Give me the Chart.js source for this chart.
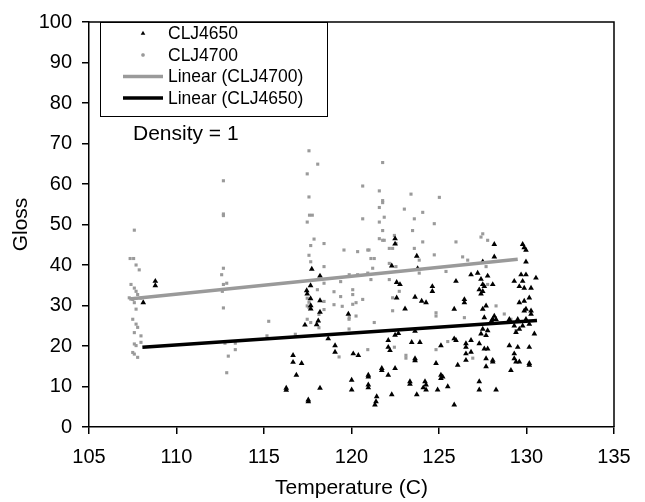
<!DOCTYPE html>
<html>
<head>
<meta charset="utf-8">
<script src="https://cdn.jsdelivr.net/npm/chart.js@4.4.0/dist/chart.umd.min.js"></script>
<style>
  body { margin: 0; background: #fff; }
  canvas { display: block; }
</style>
</head>
<body>
<canvas id="grafico" width="645" height="502"></canvas>
<script>
// --- Datos ---

// CLJ4650 (triángulos negros): temperatura, brillo
const tempCLJ4650 = [
  108.79, 108.79, 108.1, 116.66, 116.66, 116.85, 116.27, 116.27, 117.73, 118.2,
  117.66, 117.44, 117.47, 117.66, 118.2, 117.67, 117.67, 118.2, 117.34, 118.1,
  118.01, 119.82, 118.67, 119.06, 119.06, 117.15, 118.2, 117.53, 117.53,
  122.49, 122.49, 123.73, 122.3, 123.78, 122.58, 122.77, 122.58, 123.63, 124.01,
  123.06, 122.49, 122.68, 123.63, 122.1, 123.44, 123.91, 122.1, 122.2, 120.1,
  120.39, 123.63, 123.63, 121.73, 121.73, 122.49, 120.96, 120.96, 122.1, 120.01,
  123.34, 123.34, 124.2, 120.01, 120.96, 120.96, 122.3, 123.73, 121.44, 121.4,
  121.34, 124.1,
  127.5, 126.83, 127.21, 127.4, 127.78, 125.97, 127.5, 127.59, 127.3, 127.5,
  127.4, 124.62, 124.62, 124.26, 126.45, 126.45, 127.69, 127.5, 125.87, 127.59,
  127.5, 127.78, 127.4, 127.69, 125.87, 125.97, 126.83, 127.3, 127.59, 127.78,
  126.54, 126.54, 126.54, 126.83, 125.11, 126.54, 124.83, 126.07, 127.69, 125.11,
  125.21, 125.11, 124.26, 124.26, 124.92, 125.5, 127.3, 127.3, 125.87,
  128.16, 129.78, 129.87, 129.97, 128.16, 129.97, 128.07, 129.69, 129.97, 130.54,
  129.3, 129.78, 129.59, 129.87, 130.26, 130.16, 129.87, 129.59, 129.97, 129.87,
  130.26, 130.26, 128.16, 128.07, 128.26, 129.02, 129.5, 129.97, 128.0, 129.3,
  129.59, 129.4, 129.78, 130.16, 130.45, 129.02, 129.5, 130.16, 129.3, 129.3,
  129.4, 129.59, 130.16, 130.16, 128.07, 128.07, 129.11, 128.26, 127.69
];
const glossCLJ4650 = [
  36.0, 34.9, 30.7, 17.7, 16.0, 12.8, 9.6, 9.1, 39.0, 37.3,
  34.9, 33.7, 32.9, 31.7, 31.2, 30.0, 29.2, 28.4, 25.2, 26.2,
  25.3, 27.9, 21.8, 20.1, 18.5, 15.7, 9.6, 6.7, 6.3,
  46.5, 45.2, 42.2, 39.8, 39.1, 35.7, 35.2, 31.9, 32.1, 31.1,
  29.2, 22.7, 23.1, 23.7, 21.4, 20.9, 20.9, 19.7, 18.9, 18.1,
  17.7, 16.9, 16.4, 14.5, 14.0, 14.5, 12.8, 12.4, 12.8, 11.6,
  11.2, 10.6, 11.2, 9.2, 10.4, 9.7, 8.0, 8.0, 7.5, 6.3,
  5.5, 9.7,
  40.8, 37.6, 38.0, 36.5, 37.3, 36.0, 35.2, 34.7, 33.9, 33.5,
  32.9, 34.7, 33.5, 30.7, 31.5, 30.7, 29.9, 29.1, 29.1, 27.0,
  24.2, 23.8, 23.0, 22.6, 21.8, 21.4, 21.4, 20.6, 19.3, 19.3,
  20.6, 19.7, 18.1, 18.5, 20.1, 16.5, 15.7, 15.3, 14.9, 12.8,
  12.4, 12.0, 10.4, 9.2, 9.2, 10.0, 11.2, 9.2, 5.5,
  45.1, 45.1, 44.3, 43.7, 42.0, 40.8, 35.2, 37.6, 37.6, 36.8,
  36.0, 36.0, 34.7, 34.3, 34.3, 31.9, 31.1, 30.7, 29.1, 28.7,
  28.7, 27.9, 27.4, 26.6, 26.6, 26.6, 26.6, 26.6, 26.2, 25.0,
  24.2, 23.4, 25.0, 25.4, 23.0, 20.1, 19.7, 19.7, 18.1, 16.9,
  16.1, 16.1, 15.7, 15.3, 16.5, 16.1, 14.0, 9.2, 16.9
];

// CLJ4700 (cuadritos grises)
const tempCLJ4700 = [
  107.59, 107.35, 107.55, 107.69, 107.87, 107.4, 107.59, 107.69, 107.78, 107.3,
  107.5, 107.97, 107.59, 107.69, 107.5, 107.69, 107.78, 107.59, 107.97, 107.97,
  107.59, 107.69, 107.5, 107.59, 107.78,
  112.68, 112.68, 112.68, 112.68, 112.58, 112.87, 112.68, 112.62, 112.68, 115.27,
  115.17, 116.79, 112.77, 113.36, 113.36, 112.96, 112.87,
  117.57, 118.07, 117.47, 117.57, 117.6, 117.76, 117.47, 117.86, 118.43, 117.67,
  117.57, 119.57, 117.67, 118.43, 118.43, 119.38, 118.05, 119.0, 117.47, 117.57,
  119.38, 117.47, 117.57, 118.43, 119.0, 119.47, 118.43, 118.14, 117.67, 117.47,
  118.14, 119.86, 119.86, 119.29,
  121.78, 120.64, 121.59, 123.4, 121.78, 121.78, 121.59, 123.02, 124.07, 120.64,
  121.87, 123.59, 121.59, 121.78, 123.49, 121.59, 121.78, 121.87, 122.45, 122.54,
  124.07, 122.16, 122.35, 123.59, 120.35, 120.93, 121.0, 121.11, 121.3, 122.16,
  122.54, 121.21, 123.87, 119.87, 120.35, 120.93, 121.11, 122.16, 123.87, 122.73,
  120.07, 120.07, 120.64, 122.35, 120.26, 120.07, 122.35, 119.87, 120.26, 121.3,
  122.45, 120.93, 123.11, 123.11,
  125.02, 124.73, 125.97, 127.5, 127.4, 127.78, 124.73, 126.35, 126.64, 125.4,
  127.69, 127.78, 124.83, 124.83, 126.45, 125.5, 124.83, 126.93,
  128.26, 128.73, 129.11, 129.4
];
const glossCLJ4700 = [
  48.6, 41.6, 41.6, 40.0, 38.8, 35.2, 34.3, 33.5, 32.7, 31.9,
  31.5, 31.8, 30.7, 29.1, 26.6, 25.4, 24.6, 23.3, 22.5, 20.9,
  20.5, 20.1, 18.4, 18.0, 17.2,
  60.8, 52.6, 52.2, 39.2, 37.6, 35.5, 35.2, 33.5, 29.4, 26.1,
  22.5, 22.9, 20.7, 20.7, 19.1, 17.5, 13.4,
  68.2, 64.9, 62.5, 56.8, 52.3, 52.3, 50.6, 46.4, 45.3, 44.8,
  42.4, 43.7, 40.8, 39.6, 35.5, 35.9, 33.9, 33.4, 31.8, 30.8,
  32.2, 29.9, 29.5, 31.0, 30.2, 29.8, 29.0, 27.8, 25.8, 26.6,
  24.5, 26.6, 24.2, 17.3,
  65.3, 59.5, 58.3, 57.5, 55.9, 55.4, 54.2, 53.8, 53.0, 51.4,
  51.8, 51.4, 50.6, 48.5, 48.5, 46.5, 46.1, 46.1, 47.3, 45.3,
  45.7, 44.1, 44.1, 44.1, 43.3, 43.7, 43.7, 41.6, 41.6, 40.4,
  39.6, 39.2, 41.2, 37.6, 37.6, 38.0, 36.4, 36.4, 38.0, 33.5,
  33.9, 32.7, 31.5, 31.9, 30.7, 30.3, 28.7, 27.0, 27.4, 25.8,
  19.7, 19.1, 17.7, 17.0,
  56.7, 50.2, 45.7, 47.7, 46.9, 46.1, 42.5, 42.0, 41.2, 38.4,
  39.6, 35.2, 28.2, 27.4, 27.0, 21.1, 19.1, 17.0,
  29.9, 27.9, 26.6, 23.8
];

// Líneas de tendencia (extremos)
const tempLinear4700 = [107.3, 129.5];
const glossLinear4700 = [31.6, 41.4];
const tempLinear4650 = [108.05, 130.6];
const glossLinear4650 = [19.7, 26.3];

const xTicks = [105, 110, 115, 120, 125, 130, 135];
const yTicks = [0, 10, 20, 30, 40, 50, 60, 70, 80, 90, 100];

const FUENTE = "'Liberation Sans', Arial, sans-serif";
const GRIS = '#9a9a9a';

const toPoints = (xs, ys) => xs.map((x, i) => ({ x: x, y: ys[i] }));

// Leyenda dentro del área + texto "Density = 1"
const leyendaPlugin = {
    id: 'leyendaInterna',
    afterDraw(chart) {
        const ctx = chart.ctx;
        const a = chart.chartArea;
        ctx.save();
        // marco superior y derecho
        ctx.strokeStyle = '#000';
        ctx.lineWidth = 1.5;
        ctx.beginPath();
        ctx.moveTo(a.left, a.top);
        ctx.lineTo(a.right, a.top);
        ctx.lineTo(a.right, a.bottom);
        ctx.stroke();

        // caja de leyenda
        ctx.lineWidth = 1;
        ctx.fillStyle = '#fff';
        ctx.fillRect(100.5, 22.5, 227, 94);
        ctx.strokeRect(100.5, 22.5, 227, 94);

        const filas = [33.5, 55, 76.5, 98];
        const xMarca = 143;
        ctx.font = '17.5px ' + FUENTE;
        ctx.textBaseline = 'middle';
        ctx.textAlign = 'left';

        chart.data.datasets.forEach((ds, i) => {
            const y = filas[i];
            if (ds.showLine) {
                ctx.strokeStyle = ds.borderColor;
                ctx.lineWidth = ds.borderWidth;
                ctx.beginPath();
                ctx.moveTo(123, y);
                ctx.lineTo(163, y);
                ctx.stroke();
            } else {
                Chart.helpers.drawPoint(ctx, {
                    pointStyle: ds.pointStyle,
                    radius: ds.pointRadius * 0.8,
                    borderWidth: 0
                }, xMarca, y);
                ctx.fillStyle = ds.backgroundColor;
                ctx.fill();
            }
            ctx.fillStyle = '#000';
            ctx.fillText(ds.label, 168, y + 1);
        });

        ctx.font = '21px ' + FUENTE;
        ctx.fillStyle = '#000';
        ctx.fillText('Density = 1', 133, 134);
        ctx.restore();
    }
};

new Chart(document.getElementById('grafico').getContext('2d'), {
    type: 'scatter',
    data: {
        datasets: [
            {
                label: 'CLJ4650',
                data: toPoints(tempCLJ4650, glossCLJ4650),
                pointStyle: 'triangle',
                pointRadius: 3.3,
                backgroundColor: '#000',
                borderColor: '#000',
                borderWidth: 0,
                order: 1
            },
            {
                label: 'CLJ4700',
                data: toPoints(tempCLJ4700, glossCLJ4700),
                pointStyle: 'rect',
                pointRadius: 2.2,
                backgroundColor: GRIS,
                borderColor: GRIS,
                borderWidth: 0,
                order: 2
            },
            {
                label: 'Linear (CLJ4700)',
                data: toPoints(tempLinear4700, glossLinear4700),
                showLine: true,
                borderColor: GRIS,
                borderWidth: 3.5,
                pointRadius: 0,
                order: 0
            },
            {
                label: 'Linear (CLJ4650)',
                data: toPoints(tempLinear4650, glossLinear4650),
                showLine: true,
                borderColor: '#000',
                borderWidth: 3.5,
                pointRadius: 0,
                order: 0
            }
        ]
    },
    options: {
        responsive: false,
        animation: false,
        layout: { padding: { top: 17, right: 31, left: 0, bottom: 0 } },
        plugins: {
            legend: { display: false },
            tooltip: { enabled: false }
        },
        scales: {
            x: {
                type: 'linear',
                min: 105,
                max: 135,
                afterBuildTicks: s => { s.ticks = xTicks.map(v => ({ value: v })); },
                afterFit: s => { s.height = 75; },
                ticks: { color: '#000', font: { family: FUENTE, size: 20 }, padding: 11 },
                grid: { drawOnChartArea: false, drawTicks: true, tickLength: 7, color: '#000', lineWidth: 1.5 },
                border: { color: '#000', width: 1.5 },
                title: {
                    display: true,
                    text: 'Temperature (C)',
                    color: '#000',
                    font: { family: FUENTE, size: 21 },
                    padding: { top: 1, bottom: 1 }
                }
            },
            y: {
                type: 'linear',
                min: 0,
                max: 100,
                afterBuildTicks: s => { s.ticks = yTicks.map(v => ({ value: v })); },
                afterFit: s => { s.width = 89; },
                ticks: { color: '#000', font: { family: FUENTE, size: 20 }, padding: 10 },
                grid: { drawOnChartArea: false, drawTicks: true, tickLength: 7, color: '#000', lineWidth: 1.5 },
                border: { color: '#000', width: 1.5 },
                title: {
                    display: true,
                    text: 'Gloss',
                    color: '#000',
                    font: { family: FUENTE, size: 21 },
                    padding: { top: 9, bottom: 9 }
                }
            }
        }
    },
    plugins: [leyendaPlugin]
});
</script>
</body>
</html>
